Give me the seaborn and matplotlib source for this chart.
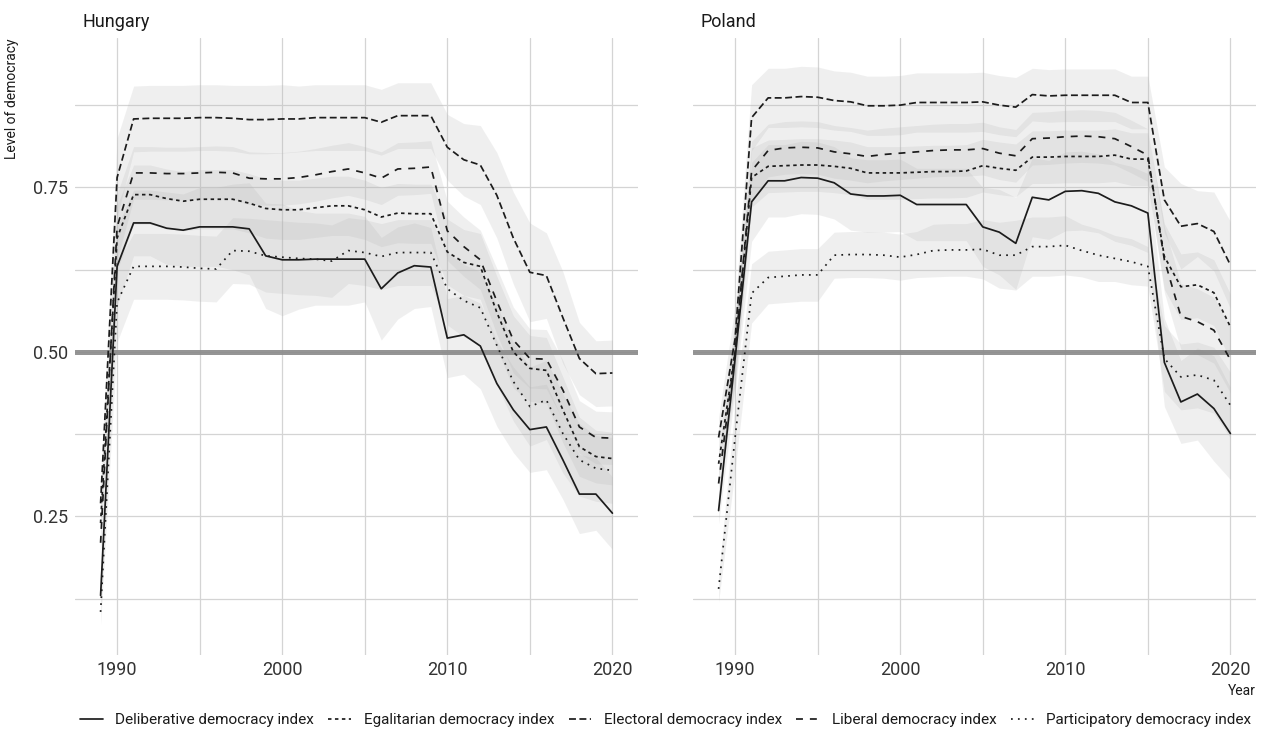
import numpy as np
import pandas as pd
import seaborn as sns
import matplotlib.pyplot as plt
from matplotlib.lines import Line2D

# Democracy indices (V-Dem style) for Hungary and Poland, 1989-2020
years = list(range(1989, 2021))
indices = [
    "Deliberative democracy index",
    "Egalitarian democracy index",
    "Electoral democracy index",
    "Liberal democracy index",
    "Participatory democracy index",
]
countries = ["Hungary", "Poland"]

hu_delib = [0.13, 0.63, 0.696, 0.696, 0.688, 0.685, 0.69, 0.69, 0.69, 0.687,
            0.646, 0.64, 0.64, 0.641, 0.641, 0.641, 0.641, 0.596, 0.62, 0.631,
            0.629, 0.521, 0.526, 0.509, 0.452, 0.412, 0.382, 0.386, 0.336, 0.284,
            0.284, 0.255]
hu_egal = [0.24, 0.673, 0.739, 0.739, 0.733, 0.729, 0.732, 0.732, 0.732, 0.726,
           0.718, 0.716, 0.716, 0.719, 0.722, 0.722, 0.716, 0.705, 0.711, 0.71,
           0.71, 0.652, 0.636, 0.63, 0.56, 0.5, 0.475, 0.472, 0.412, 0.356,
           0.341, 0.338]
hu_elec = [0.27, 0.765, 0.854, 0.855, 0.855, 0.855, 0.856, 0.856, 0.855, 0.853,
           0.853, 0.854, 0.854, 0.856, 0.856, 0.856, 0.856, 0.849, 0.859, 0.859,
           0.859, 0.811, 0.792, 0.784, 0.738, 0.673, 0.621, 0.616, 0.552, 0.49,
           0.467, 0.468]
hu_lib = [0.21, 0.69, 0.772, 0.772, 0.771, 0.771, 0.772, 0.773, 0.772, 0.764,
          0.763, 0.763, 0.765, 0.769, 0.774, 0.778, 0.772, 0.764, 0.778, 0.779,
          0.781, 0.684, 0.66, 0.64, 0.577, 0.518, 0.49, 0.489, 0.442, 0.386,
          0.37, 0.369]
hu_part = [0.105, 0.575, 0.63, 0.63, 0.63, 0.629, 0.627, 0.626, 0.654, 0.653,
           0.646, 0.644, 0.642, 0.641, 0.638, 0.654, 0.651, 0.645, 0.651, 0.651,
           0.651, 0.596, 0.578, 0.567, 0.51, 0.455, 0.417, 0.427, 0.376, 0.336,
           0.323, 0.32]

pl_delib = [0.259, 0.49, 0.728, 0.76, 0.76, 0.765, 0.764, 0.757, 0.74, 0.737,
            0.737, 0.738, 0.724, 0.724, 0.724, 0.724, 0.69, 0.682, 0.665, 0.735,
            0.731, 0.744, 0.745, 0.741, 0.728, 0.722, 0.711, 0.484, 0.424, 0.436,
            0.414, 0.376]
pl_egal = [0.33, 0.5, 0.765, 0.782, 0.783, 0.784, 0.784, 0.782, 0.779, 0.772,
           0.772, 0.772, 0.773, 0.774, 0.774, 0.775, 0.783, 0.779, 0.776, 0.796,
           0.796, 0.797, 0.797, 0.797, 0.799, 0.793, 0.793, 0.645, 0.599, 0.602,
           0.59, 0.538]
pl_elec = [0.37, 0.52, 0.856, 0.886, 0.886, 0.888, 0.887, 0.882, 0.88, 0.874,
           0.874, 0.875, 0.879, 0.879, 0.879, 0.879, 0.88, 0.875, 0.872, 0.891,
           0.889, 0.89, 0.89, 0.89, 0.89, 0.879, 0.879, 0.731, 0.691, 0.695,
           0.683, 0.632]
pl_lib = [0.30, 0.5, 0.775, 0.806, 0.81, 0.811, 0.81, 0.804, 0.801, 0.797,
          0.8, 0.802, 0.804, 0.806, 0.807, 0.807, 0.809, 0.802, 0.798, 0.824,
          0.825, 0.827, 0.828, 0.827, 0.824, 0.812, 0.799, 0.64, 0.554, 0.546,
          0.533, 0.488]
pl_part = [0.14, 0.37, 0.589, 0.613, 0.615, 0.617, 0.617, 0.647, 0.648, 0.648,
           0.647, 0.644, 0.648, 0.654, 0.655, 0.655, 0.656, 0.647, 0.647, 0.66,
           0.66, 0.662, 0.654, 0.647, 0.642, 0.637, 0.63, 0.49, 0.462, 0.465,
           0.457, 0.419]

# half-width of the uncertainty ribbons
hu_delib_ci = [0.02, 0.06, 0.05, 0.05, 0.055, 0.055, 0.06, 0.06, 0.065, 0.07,
               0.08, 0.085, 0.075, 0.07, 0.07, 0.07, 0.065, 0.078, 0.07, 0.065,
               0.06, 0.06, 0.06, 0.065, 0.065, 0.065, 0.065, 0.065, 0.06, 0.06,
               0.055, 0.055]
hu_egal_ci = [0.02, 0.05, 0.045, 0.045, 0.045, 0.045, 0.045, 0.045, 0.045, 0.045,
              0.045, 0.045, 0.045, 0.045, 0.045, 0.045, 0.045, 0.045, 0.045, 0.045,
              0.045, 0.05, 0.05, 0.05, 0.055, 0.055, 0.05, 0.05, 0.05, 0.045,
              0.04, 0.04]
hu_elec_ci = [0.03, 0.06, 0.05, 0.05, 0.05, 0.05, 0.05, 0.05, 0.05, 0.052,
              0.052, 0.052, 0.05, 0.05, 0.05, 0.05, 0.05, 0.05, 0.05, 0.05,
              0.05, 0.05, 0.055, 0.06, 0.065, 0.07, 0.075, 0.065, 0.07, 0.055,
              0.05, 0.05]
hu_lib_ci = [0.02, 0.05, 0.04, 0.04, 0.04, 0.04, 0.04, 0.04, 0.04, 0.04,
             0.04, 0.04, 0.04, 0.04, 0.04, 0.04, 0.04, 0.04, 0.04, 0.04,
             0.04, 0.045, 0.045, 0.045, 0.05, 0.05, 0.045, 0.045, 0.045, 0.04,
             0.04, 0.04]
hu_part_ci = [0.02, 0.06, 0.05, 0.05, 0.05, 0.05, 0.05, 0.05, 0.05, 0.05,
              0.055, 0.055, 0.055, 0.055, 0.055, 0.05, 0.05, 0.05, 0.05, 0.05,
              0.05, 0.055, 0.055, 0.055, 0.06, 0.06, 0.06, 0.06, 0.06, 0.055,
              0.05, 0.05]

pl_delib_ci = [0.02, 0.05, 0.06, 0.055, 0.055, 0.055, 0.055, 0.055, 0.055, 0.055,
               0.055, 0.055, 0.055, 0.055, 0.055, 0.055, 0.06, 0.065, 0.07, 0.06,
               0.06, 0.06, 0.06, 0.06, 0.06, 0.06, 0.06, 0.067, 0.063, 0.07,
               0.08, 0.07]
pl_egal_ci = [0.02, 0.05, 0.045, 0.04, 0.04, 0.04, 0.04, 0.04, 0.04, 0.04,
              0.04, 0.04, 0.04, 0.04, 0.04, 0.04, 0.04, 0.04, 0.04, 0.04,
              0.04, 0.04, 0.04, 0.04, 0.04, 0.04, 0.04, 0.05, 0.05, 0.05,
              0.05, 0.05]
pl_elec_ci = [0.03, 0.05, 0.05, 0.045, 0.045, 0.046, 0.046, 0.045, 0.045, 0.045,
              0.045, 0.045, 0.045, 0.045, 0.045, 0.045, 0.045, 0.045, 0.045, 0.04,
              0.04, 0.04, 0.04, 0.04, 0.04, 0.04, 0.04, 0.05, 0.065, 0.05,
              0.06, 0.066]
pl_lib_ci = [0.02, 0.05, 0.045, 0.04, 0.04, 0.04, 0.04, 0.04, 0.04, 0.04,
             0.04, 0.04, 0.04, 0.04, 0.04, 0.04, 0.04, 0.04, 0.04, 0.04,
             0.04, 0.04, 0.04, 0.04, 0.04, 0.04, 0.04, 0.05, 0.05, 0.05,
             0.05, 0.05]
pl_part_ci = [0.02, 0.05, 0.045, 0.04, 0.04, 0.04, 0.04, 0.035, 0.035, 0.035,
              0.035, 0.035, 0.035, 0.04, 0.04, 0.04, 0.045, 0.05, 0.053, 0.045,
              0.045, 0.045, 0.04, 0.04, 0.035, 0.035, 0.03, 0.05, 0.05, 0.05,
              0.05, 0.05]

values = {
    "Hungary": [hu_delib, hu_egal, hu_elec, hu_lib, hu_part],
    "Poland": [pl_delib, pl_egal, pl_elec, pl_lib, pl_part],
}
widths = {
    "Hungary": [hu_delib_ci, hu_egal_ci, hu_elec_ci, hu_lib_ci, hu_part_ci],
    "Poland": [pl_delib_ci, pl_egal_ci, pl_elec_ci, pl_lib_ci, pl_part_ci],
}

rows = []
for c in countries:
    for name, vals, hw in zip(indices, values[c], widths[c]):
        for y, v, w in zip(years, vals, hw):
            rows.append({"country": c, "year": y, "index": name,
                         "value": v, "lo": v - w, "hi": v + w})
df = pd.DataFrame(rows)

dash_map = {
    "Deliberative democracy index": "",
    "Egalitarian democracy index": (2, 2),
    "Electoral democracy index": (4, 2),
    "Liberal democracy index": (4, 4),
    "Participatory democracy index": (1, 3),
}

sns.set_theme(style="white")
plt.rcParams["font.family"] = ["Roboto", "DejaVu Sans"]

W, H = 1270, 731
fig = plt.figure(figsize=(W / 100, H / 100), dpi=100)
ax_h = fig.add_axes([75 / W, 1 - 655 / H, 563 / W, 617 / H])
ax_p = fig.add_axes([693 / W, 1 - 655 / H, 563 / W, 617 / H])
line_color = "#1c1c1c"
text_color = "#333333"
lw = 1.25

for ax, c in zip([ax_h, ax_p], countries):
    sub = df[df["country"] == c]
    for name in indices:
        s = sub[sub["index"] == name]
        ax.fill_between(s["year"], s["lo"], s["hi"], color="#b3b3b3",
                        alpha=0.2, lw=0, zorder=1)
    ax.axhline(0.5, color="#8a8a8a", lw=3.6, alpha=0.9, zorder=1.5)
    sns.lineplot(data=sub, x="year", y="value", style="index",
                 style_order=indices, dashes=dash_map, color=line_color,
                 lw=lw, ax=ax, legend=False, zorder=2)

    ax.set_xlim(1987.45, 2021.55)
    ax.set_ylim(0.0395, 0.977)
    ax.set_xticks([1990, 2000, 2010, 2020])
    ax.set_xticks([1995, 2005, 2015], minor=True)
    ax.set_yticks([0.25, 0.5, 0.75])
    ax.set_yticks([0.125, 0.375, 0.625, 0.875], minor=True)
    ax.grid(which="both", color="#d4d4d4", lw=0.9, zorder=0)
    ax.set_axisbelow(True)
    for sp in ax.spines.values():
        sp.set_visible(False)
    ax.tick_params(which="both", length=0, labelsize=13, colors=text_color)
    ax.tick_params(axis="y", pad=5)
    ax.tick_params(axis="x", pad=4)
    ax.set_xlabel("")
    ax.set_ylabel("")
    ax.text(7 / 563, 1 + 11 / 617, c, transform=ax.transAxes, fontsize=13,
            color="#1a1a1a", va="baseline", ha="left")

ax_h.set_yticklabels(["0.25", "0.50", "0.75"])
ax_p.tick_params(labelleft=False)

ax_h.set_ylabel("Level of democracy", loc="top", fontsize=10, color="#1a1a1a")
ax_h.yaxis.set_label_coords(-56 / 563, 1)
ax_p.set_xlabel("Year", loc="right", fontsize=10, color="#1a1a1a")
ax_p.xaxis.set_label_coords(1, -29 / 617)

handles = []
for n in indices:
    if dash_map[n]:
        handles.append(Line2D([], [], color=line_color, lw=lw, dashes=dash_map[n]))
    else:
        handles.append(Line2D([], [], color=line_color, lw=lw))
fig.legend(handles, indices, loc="center", bbox_to_anchor=(0.524, 1 - 720 / H),
           ncol=5, frameon=False, fontsize=11, handlelength=1.5,
           handletextpad=0.8, columnspacing=0.95, labelcolor="#1a1a1a")

fig.savefig("out.png", dpi=100)
